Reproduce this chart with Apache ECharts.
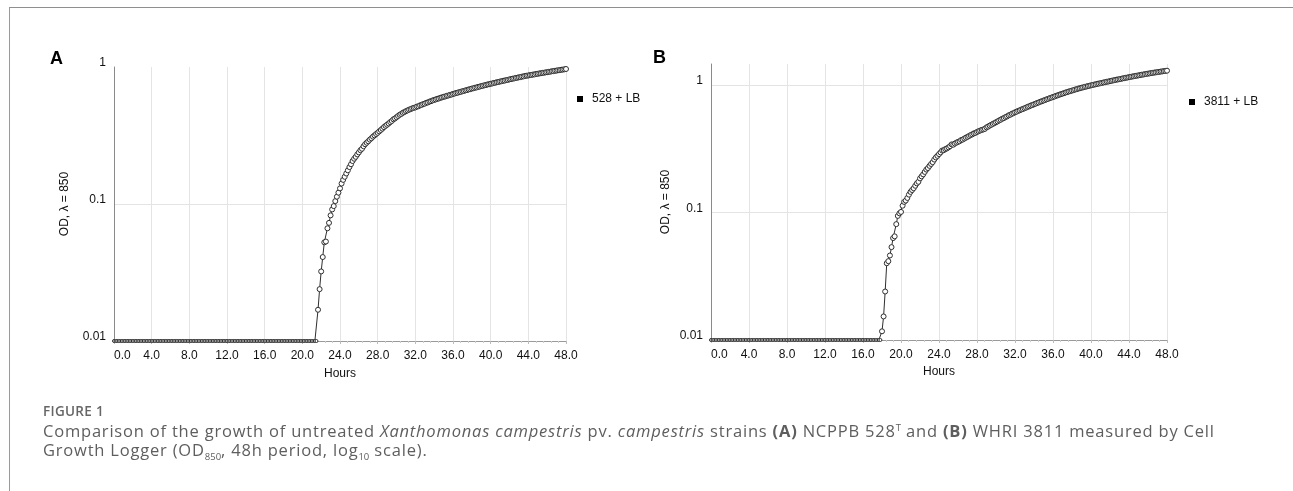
<!DOCTYPE html>
<html>
<head>
<meta charset="utf-8">
<script src="https://cdn.jsdelivr.net/npm/echarts@6/dist/echarts.min.js"></script>
<style>
  html, body { margin: 0; padding: 0; background: #fff; }
  #wrap { position: relative; width: 1293px; height: 491px; overflow: hidden; }
  #chart { position: absolute; left: 0; top: 0; width: 1293px; height: 491px; }
  .frame { position: absolute; left: 9px; top: 7px; right: -2px; bottom: -2px; border-top: 1px solid #8f8f8f; border-left: 1px solid #9a9a9a; pointer-events: none; }
  .fig { position: absolute; left: 43px; top: 402px; font-family: "Open Sans", sans-serif; font-size: 13.5px; letter-spacing: 0.3px; font-weight: 600; line-height: 18px; color: #666; white-space: nowrap; }
  .txt { position: absolute; left: 43px; top: 421px; font-family: "Open Sans", sans-serif; font-size: 16.5px; letter-spacing: 0.8px; line-height: 19px; color: #5e5e5e; white-space: nowrap; }
  .txt sub, .txt sup { font-size: 9.5px; line-height: 0; letter-spacing: 0; }
</style>
</head>
<body>
<div id="wrap">
  <div id="chart"></div>
  <div class="frame"></div>
  <div class="fig">FIGURE 1</div>
  <div class="txt">Comparison of the growth of untreated <i>Xanthomonas campestris</i> pv. <i>campestris</i> strains <b>(A)</b> NCPPB 528<sup>T</sup> and <b>(B)</b> WHRI 3811 measured by Cell<br>Growth Logger (OD<sub>850</sub>, 48h period, log<sub>10</sub> scale).</div>
</div>
<script>
// readings every 10 minutes, from 0 h to 48 h
const sampleMinutes = 10;

// 528 + LB: lag phase (0 - 21.5 h) sits on the 0.01 floor
const lagA = [
  0.01, 0.01, 0.01, 0.01, 0.01, 0.01, 0.01, 0.01, 0.01, 0.01, 0.01, 0.01, 0.01, 0.01, 0.01, 0.01, 0.01, 0.01, 0.01, 0.01,
  0.01, 0.01, 0.01, 0.01, 0.01, 0.01, 0.01, 0.01, 0.01, 0.01, 0.01, 0.01, 0.01, 0.01, 0.01, 0.01, 0.01, 0.01, 0.01, 0.01,
  0.01, 0.01, 0.01, 0.01, 0.01, 0.01, 0.01, 0.01, 0.01, 0.01, 0.01, 0.01, 0.01, 0.01, 0.01, 0.01, 0.01, 0.01, 0.01, 0.01,
  0.01, 0.01, 0.01, 0.01, 0.01, 0.01, 0.01, 0.01, 0.01, 0.01, 0.01, 0.01, 0.01, 0.01, 0.01, 0.01, 0.01, 0.01, 0.01, 0.01,
  0.01, 0.01, 0.01, 0.01, 0.01, 0.01, 0.01, 0.01, 0.01, 0.01, 0.01, 0.01, 0.01, 0.01, 0.01, 0.01, 0.01, 0.01, 0.01, 0.01,
  0.01, 0.01, 0.01, 0.01, 0.01, 0.01, 0.01, 0.01, 0.01, 0.01, 0.01, 0.01, 0.01, 0.01, 0.01, 0.01, 0.01, 0.01, 0.01, 0.01,
  0.01, 0.01, 0.01, 0.01, 0.01, 0.01, 0.01, 0.01, 0.01, 0.01
];
// 528 + LB: growth (21.67 h - 48 h)
const growthA = [
  0.0169, 0.0239, 0.0322, 0.041, 0.0525, 0.0532, 0.0665, 0.0728, 0.0826, 0.0912, 0.0965, 0.105,
  0.113, 0.121, 0.13, 0.141, 0.15, 0.158, 0.167, 0.176, 0.186, 0.195, 0.206, 0.214,
  0.221, 0.23, 0.238, 0.247, 0.253, 0.264, 0.273, 0.28, 0.287, 0.295, 0.302, 0.31,
  0.317, 0.324, 0.331, 0.339, 0.347, 0.355, 0.364, 0.372, 0.379, 0.387, 0.396, 0.404,
  0.415, 0.421, 0.43, 0.439, 0.448, 0.454, 0.463, 0.469, 0.476, 0.482, 0.488, 0.493, 0.499, 0.503,
  0.507, 0.514, 0.517, 0.525, 0.529, 0.536, 0.54, 0.548, 0.551, 0.559, 0.563, 0.57, 0.575,
  0.58, 0.586, 0.589, 0.596, 0.6, 0.606, 0.609, 0.616, 0.619, 0.626, 0.629, 0.636,
  0.64, 0.646, 0.649, 0.656, 0.659, 0.666, 0.669, 0.676, 0.679, 0.686, 0.689, 0.696,
  0.699, 0.706, 0.709, 0.716, 0.719, 0.726, 0.729, 0.736, 0.739, 0.746, 0.748, 0.755,
  0.758, 0.765, 0.768, 0.774, 0.777, 0.784, 0.787, 0.794, 0.796, 0.803, 0.806, 0.813,
  0.816, 0.822, 0.825, 0.832, 0.835, 0.841, 0.844, 0.851, 0.854, 0.861, 0.864,
  0.867, 0.873, 0.875, 0.881, 0.883, 0.89, 0.892, 0.898, 0.9, 0.906, 0.908, 0.914, 0.916,
  0.922, 0.924, 0.931, 0.933, 0.939, 0.941, 0.947, 0.949, 0.955, 0.957, 0.962, 0.967
];

// 3811 + LB: lag phase (0 - 17.83 h)
const lagB = [
  0.01, 0.01, 0.01, 0.01, 0.01, 0.01, 0.01, 0.01, 0.01, 0.01, 0.01, 0.01, 0.01, 0.01, 0.01, 0.01, 0.01, 0.01, 0.01, 0.01,
  0.01, 0.01, 0.01, 0.01, 0.01, 0.01, 0.01, 0.01, 0.01, 0.01, 0.01, 0.01, 0.01, 0.01, 0.01, 0.01, 0.01, 0.01, 0.01, 0.01,
  0.01, 0.01, 0.01, 0.01, 0.01, 0.01, 0.01, 0.01, 0.01, 0.01, 0.01, 0.01, 0.01, 0.01, 0.01, 0.01, 0.01, 0.01, 0.01, 0.01,
  0.01, 0.01, 0.01, 0.01, 0.01, 0.01, 0.01, 0.01, 0.01, 0.01, 0.01, 0.01, 0.01, 0.01, 0.01, 0.01, 0.01, 0.01, 0.01, 0.01,
  0.01, 0.01, 0.01, 0.01, 0.01, 0.01, 0.01, 0.01, 0.01, 0.01, 0.01, 0.01, 0.01, 0.01, 0.01, 0.01, 0.01, 0.01, 0.01, 0.01,
  0.01, 0.01, 0.01, 0.01, 0.01, 0.01, 0.01, 0.01
];
// 3811 + LB: growth (18 h - 48 h)
const growthB = [
  0.0117, 0.0153, 0.024, 0.04, 0.0415, 0.046, 0.0535, 0.063, 0.065, 0.081, 0.094, 0.0985, 0.101, 0.113, 0.121,
  0.124, 0.13, 0.138, 0.145, 0.15, 0.155, 0.162, 0.169, 0.174, 0.185, 0.192, 0.199, 0.208, 0.217, 0.223,
  0.232, 0.24, 0.248, 0.26, 0.27, 0.278, 0.287, 0.296, 0.306, 0.308, 0.314, 0.318, 0.324, 0.331, 0.342,
  0.34, 0.347, 0.353, 0.358, 0.362, 0.37, 0.373, 0.38, 0.386, 0.392, 0.398, 0.405, 0.41, 0.417, 0.421,
  0.428, 0.434, 0.439, 0.444, 0.448, 0.453, 0.465, 0.471, 0.48, 0.487, 0.495, 0.502,
  0.51, 0.518, 0.527, 0.534, 0.544, 0.55, 0.56, 0.567, 0.578, 0.584, 0.594, 0.601,
  0.61, 0.617, 0.626, 0.633, 0.642, 0.648, 0.657, 0.664, 0.674, 0.68, 0.69, 0.696,
  0.705, 0.713, 0.722, 0.729, 0.739, 0.745, 0.755, 0.762, 0.772, 0.779, 0.789, 0.796,
  0.805, 0.812, 0.823, 0.829, 0.839, 0.846, 0.855, 0.862, 0.873, 0.879, 0.889, 0.895,
  0.904, 0.911, 0.921, 0.927, 0.937, 0.942, 0.951, 0.957, 0.966, 0.971, 0.98, 0.985,
  0.993, 0.999, 1.007, 1.012, 1.021, 1.025, 1.033, 1.038, 1.047, 1.051, 1.06, 1.064,
  1.072, 1.078, 1.086, 1.091, 1.1, 1.104, 1.112, 1.117, 1.126, 1.13, 1.139, 1.143,
  1.151, 1.156, 1.165, 1.169, 1.177, 1.182, 1.189, 1.194, 1.203, 1.207, 1.215, 1.22,
  1.227, 1.232, 1.24, 1.244, 1.251, 1.255, 1.262, 1.266, 1.274, 1.277, 1.284, 1.288, 1.294
];

const seriesNames = ['528 + LB', '3811 + LB'];
const yTop = [1, 1.46];

const font = '"Liberation Sans", Arial, sans-serif';
const ink = '#111';

function toPoints(values) {
  return values.map((v, i) => [i * sampleMinutes / 60, v]);
}

function xAxis(idx, gap) {
  return {
    type: 'value', gridIndex: idx, min: 0, max: 48, interval: 4,
    name: 'Hours', nameLocation: 'middle', nameGap: gap,
    nameTextStyle: { fontFamily: font, fontSize: 12, color: ink },
    axisLine: { onZero: false, lineStyle: { color: '#9a9a9a' } },
    axisTick: { show: true, length: 3, lineStyle: { color: '#bbb' } },
    minorTick: { show: true, splitNumber: 5, length: 2, lineStyle: { color: '#ccc' } },
    splitLine: { show: true, lineStyle: { color: '#e4e4e4' } },
    axisLabel: {
      fontFamily: font, fontSize: 12, color: ink, margin: 9,
      alignMinLabel: 'left',
      formatter: (v) => v.toFixed(1)
    }
  };
}

function yAxis(idx, gap) {
  return {
    type: 'log', logBase: 10, gridIndex: idx, min: 0.01, max: yTop[idx],
    name: 'OD, \u03bb = 850', nameLocation: 'middle', nameGap: gap,
    nameTextStyle: { fontFamily: font, fontSize: 12, color: ink },
    axisLine: { show: true, onZero: false, lineStyle: { color: '#8a8a8a' } },
    axisTick: { show: false },
    splitLine: { show: true, showMaxLine: false, lineStyle: { color: '#e4e4e4' } },
    axisLabel: {
      fontFamily: font, fontSize: 12, color: ink, margin: 8,
      verticalAlign: 'bottom', lineHeight: 8, showMaxLabel: idx === 0,
      formatter: (v) => String(+(+v).toPrecision(2))
    }
  };
}

function growthSeries(idx, values) {
  return {
    type: 'line', name: seriesNames[idx], xAxisIndex: idx, yAxisIndex: idx,
    data: toPoints(values),
    symbol: 'circle',
    symbolSize: (val) => (val[1] <= 0.01 ? 3 : 5),
    showSymbol: true, showAllSymbol: true,
    itemStyle: { color: '#fff', borderColor: '#2e2e2e', borderWidth: 1 },
    lineStyle: { color: '#2e2e2e', width: 1 },
    emphasis: { disabled: true }
  };
}

function legend(idx, left, top) {
  return {
    data: [{ name: seriesNames[idx], icon: 'rect', itemStyle: { color: '#000', borderWidth: 0 } }],
    left: left, top: top, padding: 0,
    itemWidth: 6, itemHeight: 6,
    textStyle: { fontFamily: font, fontSize: 12, color: ink, padding: [0, 0, 0, 4] }
  };
}

const chart = echarts.init(document.getElementById('chart'));
chart.setOption({
  animation: false,
  backgroundColor: 'transparent',
  title: [
    { text: 'A', left: 50, top: 50, padding: 0, textStyle: { fontFamily: font, fontSize: 18, fontWeight: 'bold', color: '#000' } },
    { text: 'B', left: 653, top: 49, padding: 0, textStyle: { fontFamily: font, fontSize: 18, fontWeight: 'bold', color: '#000' } }
  ],
  legend: [legend(0, 577, 93), legend(1, 1189, 96)],
  grid: [
    { left: 114, top: 67, width: 452, height: 274 },
    { left: 711, top: 64, width: 456, height: 276 }
  ],
  xAxis: [xAxis(0, 27), xAxis(1, 26)],
  yAxis: [yAxis(0, 43), yAxis(1, 39)],
  series: [
    growthSeries(0, lagA.concat(growthA)),
    growthSeries(1, lagB.concat(growthB))
  ]
});
</script>
</body>
</html>
